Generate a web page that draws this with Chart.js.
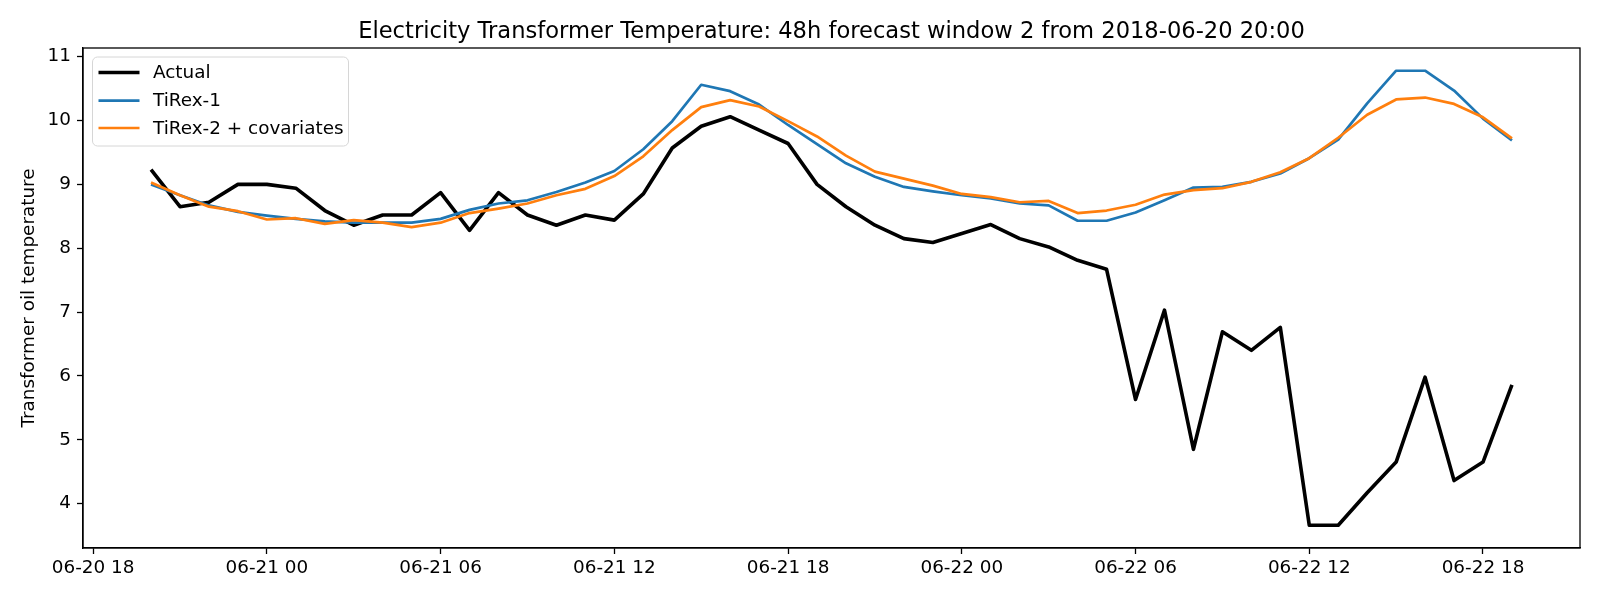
<!DOCTYPE html>
<html>
<head>
<meta charset="utf-8">
<script src="https://cdn.jsdelivr.net/npm/chart.js@4.4.1/dist/chart.umd.min.js"></script>
<style>
  body { margin: 0; background: #fff; }
  canvas { display: block; }
</style>
</head>
<body>
<canvas id="grafica" width="1600" height="600"></canvas>
<script>
// hourly series, first point 2018-06-20 20:00 (UTC), one value per hour
const startTime = Date.UTC(2018, 5, 20, 20);
const seriesNames = ['Actual', 'TiRex-1', 'TiRex-2 + covariates'];
const seriesColors = ['#000000', '#1f77b4', '#ff7f0e'];

const actual = [
  9.23, 8.65, 8.72, 9.00, 9.00, 8.94, 8.59, 8.36, 8.52, 8.52, 8.87, 8.28,
  8.87, 8.52, 8.36, 8.52, 8.44, 8.85, 9.57, 9.91, 10.06, 9.85, 9.64, 9.00,
  8.65, 8.36, 8.15, 8.09, 8.23, 8.37, 8.15, 8.02, 7.81, 7.67, 5.63, 7.03,
  4.85, 6.69, 6.40, 6.76, 3.66, 3.66, 4.17, 4.65, 5.98, 4.36, 4.65, 5.86
];
const tirex1 = [
  9.00, 8.83, 8.67, 8.57, 8.51, 8.46, 8.42, 8.40, 8.40, 8.40, 8.46, 8.60,
  8.70, 8.75, 8.88, 9.03, 9.21, 9.55, 9.99, 10.56, 10.46, 10.25, 9.93, 9.63,
  9.33, 9.12, 8.96, 8.89, 8.83, 8.78, 8.70, 8.67, 8.43, 8.43, 8.56, 8.75,
  8.95, 8.96, 9.04, 9.17, 9.41, 9.70, 10.27, 10.78, 10.78, 10.47, 10.03, 9.69
];
const tirex2 = [
  9.03, 8.83, 8.65, 8.58, 8.45, 8.47, 8.38, 8.44, 8.40, 8.33, 8.40, 8.55,
  8.62, 8.70, 8.83, 8.93, 9.13, 9.44, 9.85, 10.21, 10.32, 10.22, 9.99, 9.75,
  9.45, 9.20, 9.09, 8.98, 8.85, 8.80, 8.72, 8.74, 8.55, 8.59, 8.68, 8.84,
  8.91, 8.94, 9.04, 9.19, 9.41, 9.73, 10.09, 10.33, 10.36, 10.26, 10.05, 9.72
];

const xTickLabels = ['06-20 18', '06-21 00', '06-21 06', '06-21 12', '06-21 18',
                     '06-22 00', '06-22 06', '06-22 12', '06-22 18'];
const yTicks = [4, 5, 6, 7, 8, 9, 10, 11];

const titleText = 'Electricity Transformer Temperature: 48h forecast window 2 from 2018-06-20 20:00';
const yTitle = 'Transformer oil temperature';

const HOUR = 3600 * 1000;
const times = actual.map((_, i) => startTime + i * HOUR);
const tickValue = s => Date.UTC(2018, +s.slice(0, 2) - 1, +s.slice(3, 5), +s.slice(6, 8));

// matplotlib style 5% margins
const allVals = actual.concat(tirex1, tirex2);
const yLo = Math.min(...allVals), yHi = Math.max(...allVals);
const yPad = (yHi - yLo) * 0.05;
const xPad = (times[times.length - 1] - times[0]) * 0.05;

const FONT = 'DejaVu Sans';
const TXT = 18.4;
Chart.defaults.color = '#000';
Chart.defaults.font.family = FONT;

const toPoints = arr => arr.map((v, i) => ({ x: times[i], y: v }));

// frame, title and legend drawn the matplotlib way
const extras = {
    id: 'extras',
    afterDatasetsDraw(chart) {
        const ctx = chart.ctx, ca = chart.chartArea;
        ctx.save();
        ctx.strokeStyle = '#000';
        ctx.lineWidth = 1.3;
        ctx.strokeRect(ca.left, ca.top, ca.right - ca.left, ca.bottom - ca.top);

        ctx.fillStyle = '#000';
        ctx.font = '22.6px "' + FONT + '"';
        ctx.textAlign = 'center';
        ctx.textBaseline = 'alphabetic';
        ctx.fillText(titleText, (ca.left + ca.right) / 2, ca.top - 10.5);

        // legend box
        const bx = ca.left + 9.5, by = ca.top + 9, bw = 256, bh = 89, r = 5;
        ctx.beginPath();
        ctx.roundRect(bx, by, bw, bh, r);
        ctx.fillStyle = 'rgba(255,255,255,0.8)';
        ctx.fill();
        ctx.strokeStyle = '#d6d6d6';
        ctx.lineWidth = 1;
        ctx.stroke();

        const rows = [15.5, 43.7, 71];
        ctx.font = TXT + 'px "' + FONT + '"';
        ctx.textAlign = 'left';
        ctx.textBaseline = 'middle';
        seriesNames.forEach((name, i) => {
            const y = by + rows[i];
            ctx.beginPath();
            ctx.moveTo(bx + 6, y);
            ctx.lineTo(bx + 47, y);
            ctx.strokeStyle = seriesColors[i];
            ctx.lineWidth = i === 0 ? 3.6 : 2.7;
            ctx.stroke();
            ctx.fillStyle = '#000';
            ctx.fillText(name, bx + 60.5, y + 1);
        });
        ctx.restore();
    }
};

new Chart(document.getElementById('grafica'), {
    type: 'line',
    data: {
        datasets: [
            { label: seriesNames[0], data: toPoints(actual), borderColor: seriesColors[0], borderWidth: 3.6, order: 3 },
            { label: seriesNames[1], data: toPoints(tirex1), borderColor: seriesColors[1], borderWidth: 2.7, order: 2 },
            { label: seriesNames[2], data: toPoints(tirex2), borderColor: seriesColors[2], borderWidth: 2.7, order: 1 }
        ]
    },
    options: {
        responsive: false,
        animation: false,
        layout: { padding: { top: 48, right: 20, left: 0, bottom: 0 } },
        elements: {
            point: { radius: 0 },
            line: { tension: 0, borderJoinStyle: 'round', fill: false }
        },
        plugins: {
            legend: { display: false },
            tooltip: { enabled: false }
        },
        scales: {
            x: {
                type: 'linear',
                min: times[0] - xPad,
                max: times[times.length - 1] + xPad,
                afterBuildTicks: s => { s.ticks = xTickLabels.map(l => ({ value: tickValue(l) })); },
                afterFit: s => { s.height = 52; },
                grid: { drawOnChartArea: false, tickLength: 6, tickColor: '#000', tickWidth: 1.3 },
                border: { color: '#000', width: 1.3 },
                ticks: {
                    autoSkip: false, maxRotation: 0, padding: 3,
                    font: { size: TXT },
                    callback: (v, i) => xTickLabels[i]
                }
            },
            y: {
                min: yLo - yPad,
                max: yHi + yPad,
                afterBuildTicks: s => { s.ticks = yTicks.map(v => ({ value: v })); },
                afterFit: s => { s.width = 83; },
                grid: { drawOnChartArea: false, tickLength: 6, tickColor: '#000', tickWidth: 1.3 },
                border: { color: '#000', width: 1.3 },
                ticks: { padding: 6, font: { size: TXT }, callback: v => String(v) },
                title: {
                    display: true, text: yTitle,
                    font: { size: TXT },
                    padding: { top: 18, bottom: 0 }
                }
            }
        }
    },
    plugins: [extras]
});
</script>
</body>
</html>
